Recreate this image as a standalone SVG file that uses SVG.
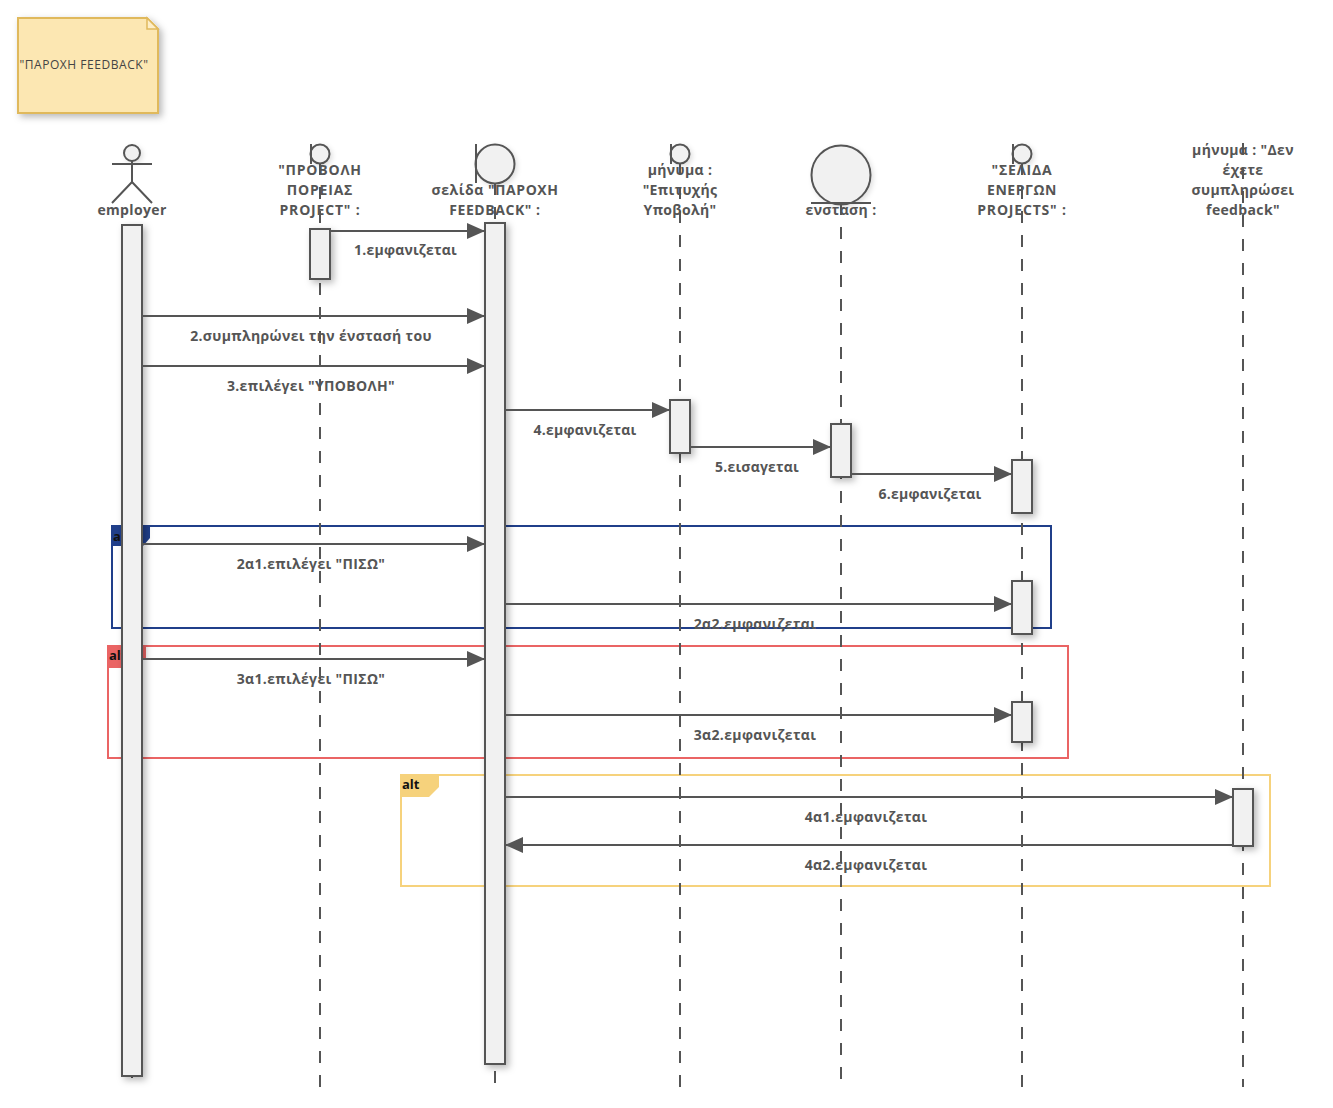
<svg xmlns="http://www.w3.org/2000/svg" width="1333" height="1108" viewBox="0 0 1333 1108">
<style>
text{font-family:"Open Sans","Noto Sans",sans-serif;font-size:14px;font-weight:700;fill:#555;text-anchor:middle;letter-spacing:.35px}
.u{letter-spacing:.8px}
.m{letter-spacing:.55px}
.e{letter-spacing:.2px}
.life{stroke:#555;stroke-width:2;stroke-dasharray:12 12;fill:none}
.act{fill:#f1f1f1;stroke:#555;stroke-width:2;filter:url(#s)}
.ic{fill:#f1f1f1;stroke:#555;stroke-width:2;filter:url(#h)}
.ln{stroke:#555;stroke-width:2;fill:none}
.msg{stroke:#555;stroke-width:2;fill:none;marker-end:url(#a)}
.tab{font-size:13px;fill:#111;text-anchor:start;letter-spacing:0}
</style>
<defs>
<filter id="s" x="-100%" y="-30%" width="300%" height="160%"><feDropShadow dx="3" dy="3" stdDeviation="3.5" flood-color="#000" flood-opacity=".28"/></filter>
<filter id="h" x="-50%" y="-50%" width="200%" height="200%"><feDropShadow dx="2" dy="2" stdDeviation="2.5" flood-color="#000" flood-opacity=".12"/></filter>
<marker id="a" markerUnits="userSpaceOnUse" markerWidth="18" markerHeight="16" refX="18" refY="8" orient="auto-start-reverse"><path d="M0 0L18 8L0 16Z" fill="#555"/></marker>
</defs>
<rect width="1333" height="1108" fill="#fff"/>
<g id="note"><path d="M18 18H147L158 29V113H18Z" fill="#fce7b2" stroke="#e0b95c" stroke-width="2" filter="url(#s)"/><path d="M147 18V29H158Z" fill="#fdeec8" stroke="#e0b95c" stroke-width="1.5"/><text x="84" y="69" style="font-size:12px;font-weight:400;fill:#444;letter-spacing:.55px">"ΠΑΡΟΧΗ FEEDBACK"</text></g>
<g id="frames">
<g id="frame-blue"><rect x="112" y="526" width="939" height="102" fill="none" stroke="#203f8a" stroke-width="2"/><path d="M112 525H150V538L143 546H112Z" fill="#203f8a"/><text class="tab" x="113" y="541">alt</text></g>
<g id="frame-red"><rect x="108" y="646" width="960" height="112" fill="none" stroke="#ea6464" stroke-width="2"/><path d="M107 645H146V659H140V668H107Z" fill="#ea6464"/><text class="tab" x="109" y="660">alt</text></g>
<g id="frame-yellow"><rect x="401" y="775" width="869" height="111" fill="none" stroke="#f6d27c" stroke-width="2"/><path d="M400 774H439V787L429 797H400Z" fill="#f6d27c"/><text class="tab" x="402" y="789">alt</text></g>
</g>
<g id="lifelines">
<path class="life" d="M132 1066V1078"/>
<path class="life" d="M320 163V1087"/>
<path class="life" d="M495 183V1083"/>
<path class="life" d="M680 163V1087"/>
<path class="life" d="M841 203V1079"/>
<path class="life" d="M1022 163V1087"/>
<path class="life" d="M1243 143V1087"/>
</g>
<g id="employer"><circle class="ic" cx="132" cy="153" r="8"/><path class="ln" d="M112 164H152M132 161V182M112 203L132 182L152 203"/><text x="132" y="215">employer</text><rect class="act" x="122" y="225" width="20" height="851"/></g>
<g id="provoli"><circle class="ic" cx="320" cy="154" r="9.5"/><path class="ln" d="M311 144V164"/><text class="u" x="320" y="175">"ΠΡΟΒΟΛΗ</text><text class="u" x="320" y="195">ΠΟΡΕΙΑΣ</text><text class="u" x="320" y="215">PROJECT" :</text><rect class="act" x="310" y="229" width="20" height="50"/></g>
<g id="selida"><circle class="ic" cx="495" cy="164" r="19.5"/><path class="ln" d="M476 144V183"/><text class="m" x="495" y="195">σελίδα "ΠΑΡΟΧΗ</text><text class="m" x="495" y="215">FEEDBACK" :</text><rect class="act" x="485" y="223" width="20" height="841"/></g>
<g id="minima1"><circle class="ic" cx="680" cy="154" r="9.5"/><path class="ln" d="M671 144V164"/><text x="680" y="175">μήνυμα :</text><text x="680" y="195">"Επιτυχής</text><text x="680" y="215">Υποβολή"</text><rect class="act" x="670" y="400" width="20" height="53"/></g>
<g id="enstasi"><circle class="ic" cx="841" cy="175" r="29.5"/><path class="ln" d="M811 203H871"/><text x="841" y="215">ενσταση :</text><rect class="act" x="831" y="424" width="20" height="53"/></g>
<g id="energa"><circle class="ic" cx="1022" cy="154" r="9.5"/><path class="ln" d="M1013 144V164"/><text class="u" x="1022" y="175">"ΣΕΛΙΔΑ</text><text class="m" x="1022" y="195">ΕΝΕΡΓΩΝ</text><text class="u" x="1022" y="215">PROJECTS" :</text><rect class="act" x="1012" y="460" width="20" height="53"/><rect class="act" x="1012" y="581" width="20" height="53"/><rect class="act" x="1012" y="702" width="20" height="40"/></g>
<g id="minima2"><text x="1243" y="155">μήνυμα : "Δεν</text><text x="1243" y="175">έχετε</text><text x="1243" y="195">συμπληρώσει</text><text x="1243" y="215">feedback"</text><rect class="act" x="1233" y="789" width="20" height="57"/></g>
<g id="connectors">
<path class="msg" d="M330 231H485"/><text class="e" x="405.500" y="255">1.εμφανιζεται</text>
<path class="msg" d="M142 316H485"/><text x="311" y="340.500">2.συμπληρώνει την ένστασή του</text>
<path class="msg" d="M142 366H485"/><text x="311" y="390.500">3.επιλέγει "ΥΠΟΒΟΛΗ"</text>
<path class="msg" d="M505 410H670"/><text class="e" x="585" y="434.500">4.εμφανιζεται</text>
<path class="msg" d="M690 447H831"/><text class="e" x="757" y="471.500">5.εισαγεται</text>
<path class="msg" d="M851 474H1012"/><text class="e" x="930" y="498.500">6.εμφανιζεται</text>
<path class="msg" d="M142 544H485"/><text x="311" y="568.500">2α1.επιλέγει "ΠΙΣΩ"</text>
<path class="msg" d="M505 604H1012"/><text x="755" y="628.500">2α2.εμφανιζεται</text>
<path class="msg" d="M142 659H485"/><text x="311" y="683.500">3α1.επιλέγει "ΠΙΣΩ"</text>
<path class="msg" d="M505 715H1012"/><text x="755" y="739.500">3α2.εμφανιζεται</text>
<path class="msg" d="M505 797H1233"/><text x="866" y="821.500">4α1.εμφανιζεται</text>
<path class="msg" d="M1233 845H505"/><text x="866" y="869.500">4α2.εμφανιζεται</text>
</g>
</svg>
